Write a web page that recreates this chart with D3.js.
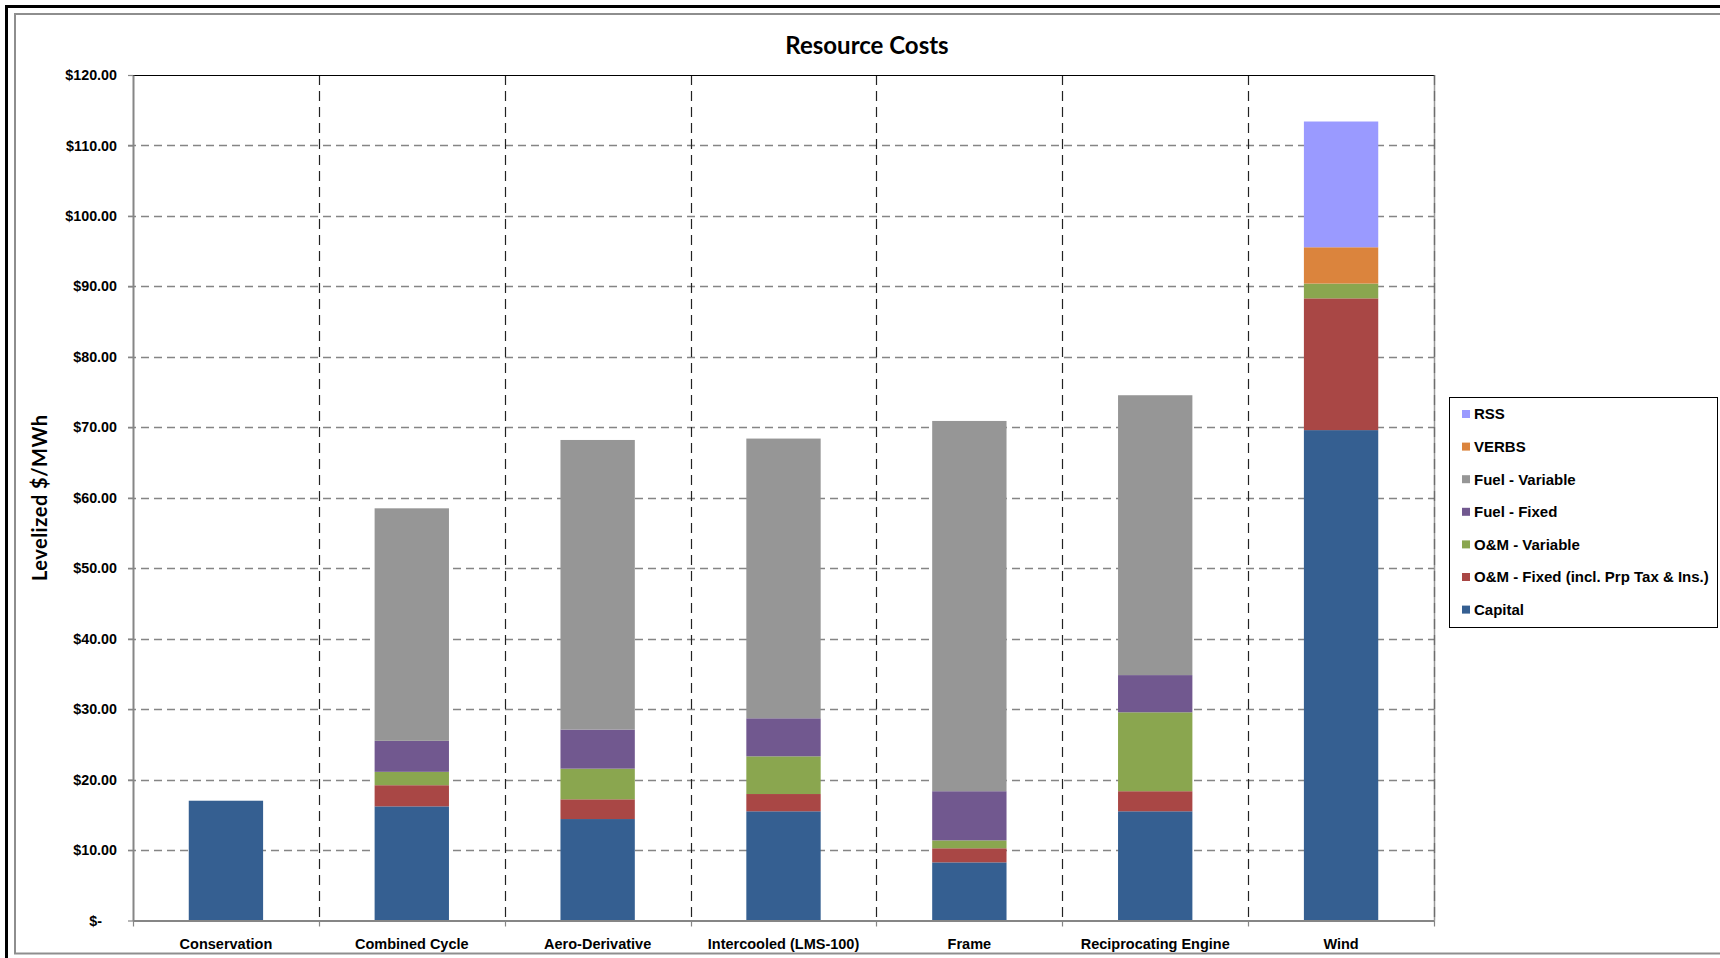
<!DOCTYPE html>
<html><head><meta charset="utf-8">
<script src="https://cdn.jsdelivr.net/npm/d3@7"></script>
<style>body{margin:0;background:#fff;overflow:hidden;} svg{display:block;}</style>
</head><body><svg id="chart" width="1720" height="958"></svg>
<script>
// ---- data ----
const categories = ["Conservation", "Combined Cycle", "Aero-Derivative", "Intercooled (LMS-100)", "Frame", "Reciprocating Engine", "Wind"];
const seriesNames = ["Capital", "O&M - Fixed (incl. Prp Tax & Ins.)", "O&M - Variable", "Fuel - Fixed", "Fuel - Variable", "VERBS", "RSS"];
const capital     = [17.0, 16.2, 14.4, 15.5, 8.25, 15.5, 69.6];
const omFixed     = [0, 3.0, 2.8, 2.45, 2.0, 2.85, 18.7];
const omVariable  = [0, 1.9, 4.35, 5.35, 1.12, 11.2, 2.1];
const fuelFixed   = [0, 4.4, 5.55, 5.4, 6.98, 5.28, 0];
const fuelVariable= [0, 33.0, 41.1, 39.7, 52.55, 39.72, 0];
const verbs       = [0, 0, 0, 0, 0, 0, 5.15];
const rss         = [0, 0, 0, 0, 0, 0, 17.85];
const seriesColors = ["#355F91", "#A94745", "#8AA64F", "#71588F", "#969696", "#DB843D", "#9A9AFF"];
const yTicks = [0, 10, 20, 30, 40, 50, 60, 70, 80, 90, 100, 110, 120];
const chartTitle = "Resource Costs";
const yTitle = "Levelized $/MWh";

const seriesValues = [capital, omFixed, omVariable, fuelFixed, fuelVariable, verbs, rss];
const rows = categories.map((c, i) => {
  const r = { category: c };
  seriesNames.forEach((s, k) => r[s] = seriesValues[k][i]);
  return r;
});

// ---- layout ----
const svg = d3.select("#chart");
const L = 133, R = 1434, T = 75, B = 920.5;
const x = d3.scaleBand().domain(categories).range([L, R]).padding(0);
const y = d3.scaleLinear().domain([0, 120]).range([B, T]);
const sansBold = "'Liberation Sans', Arial, sans-serif";

// frames
svg.append("rect").attr("x", 6.5).attr("y", 6.5).attr("width", 1730).attr("height", 970)
  .attr("fill", "none").attr("stroke", "#000").attr("stroke-width", 3);
svg.append("rect").attr("x", 15).attr("y", 14).attr("width", 1730).attr("height", 939.5)
  .attr("fill", "none").attr("stroke", "#8e8e8e").attr("stroke-width", 2);

// horizontal gridlines
svg.append("g").selectAll("line").data(yTicks.filter(v => v > 0 && v < 120)).join("line")
  .attr("x1", L - 5).attr("x2", R).attr("y1", d => Math.round(y(d)) + 0.5).attr("y2", d => Math.round(y(d)) + 0.5)
  .attr("stroke", "#858585").attr("stroke-width", 1.3).attr("stroke-dasharray", "8,5");

// vertical category dividers
const bounds = categories.slice(1).map(c => x(c)).concat([R]);
svg.append("g").selectAll("line").data(bounds).join("line")
  .attr("x1", d => Math.round(d) + 0.5).attr("x2", d => Math.round(d) + 0.5).attr("y1", T).attr("y2", B)
  .attr("stroke", "#222").attr("stroke-width", 1.2).attr("stroke-dasharray", "10,6");

// bars
const stack = d3.stack().keys(seriesNames);
const stacked = stack(rows);
const bw = x.bandwidth() * 0.4;
svg.append("g").selectAll("g").data(stacked).join("g")
  .attr("fill", (d, i) => seriesColors[i])
  .selectAll("rect").data(d => d.filter(p => p[1] - p[0] > 0)).join("rect")
  .attr("x", d => x(d.data.category) + (x.bandwidth() - bw) / 2)
  .attr("width", bw)
  .attr("y", d => y(d[1]))
  .attr("height", d => y(d[0]) - y(d[1]));

// plot border: top black, right gray
svg.append("line").attr("x1", L).attr("x2", R + 1).attr("y1", T + 0.5).attr("y2", T + 0.5)
  .attr("stroke", "#000").attr("stroke-width", 1.2);
svg.append("line").attr("x1", R + 0.5).attr("x2", R + 0.5).attr("y1", T).attr("y2", B)
  .attr("stroke", "#808080").attr("stroke-width", 1.5).attr("opacity", 0.8);

// y axis
const fmt = v => v === 0 ? "$-" : "$" + d3.format(".2f")(v);
const yAxis = svg.append("g").attr("transform", `translate(${L},0)`)
  .call(d3.axisLeft(y).tickValues(yTicks).tickFormat(fmt).tickSize(5).tickSizeOuter(0).tickPadding(11));
yAxis.select(".domain").attr("stroke", "#868686").attr("stroke-width", 2);
yAxis.selectAll(".tick line").attr("stroke", "#868686").attr("stroke-width", 1.2);
yAxis.selectAll(".tick text").attr("font-family", sansBold).attr("font-weight", "bold")
  .attr("font-size", "14.3px").attr("fill", "#000")
  .attr("dx", d => d === 0 ? -15 : 0);

// x axis
const xAxis = svg.append("g").attr("transform", `translate(0,${B})`)
  .call(d3.axisBottom(x).tickSize(0).tickPadding(18));
xAxis.select(".domain").attr("stroke", "#868686").attr("stroke-width", 2);
xAxis.selectAll(".tick text").attr("font-family", sansBold).attr("font-weight", "bold")
  .attr("font-size", "14.5px").attr("fill", "#000");
svg.append("g").selectAll("line").data([L].concat(bounds)).join("line")
  .attr("x1", d => Math.round(d) + 0.5).attr("x2", d => Math.round(d) + 0.5).attr("y1", B).attr("y2", B + 6)
  .attr("stroke", "#868686").attr("stroke-width", 1.2);

// title
svg.append("text").attr("x", 867).attr("y", 54).attr("text-anchor", "middle")
  .attr("font-family", "Lato, 'Open Sans', sans-serif").attr("font-weight", "bold").attr("font-size", "24px")
  .attr("fill", "#000").text(chartTitle);

// y title
svg.append("text").attr("transform", `translate(47,${(T + B) / 2}) rotate(-90)`).attr("text-anchor", "middle")
  .attr("font-family", "Lato, 'Open Sans', sans-serif").attr("font-weight", "bold").attr("font-size", "20px")
  .attr("fill", "#000").attr("letter-spacing", "0.5px").text(yTitle);

// legend
const lg = svg.append("g");
lg.append("rect").attr("x", 1449.5).attr("y", 397.5).attr("width", 268).attr("height", 230)
  .attr("fill", "#fff").attr("stroke", "#000").attr("stroke-width", 1);
const legendItems = seriesNames.map((s, i) => ({ name: s, color: seriesColors[i] })).reverse();
const li = lg.selectAll("g.item").data(legendItems).join("g").attr("class", "item")
  .attr("transform", (d, i) => `translate(1462,${414 + i * 32.6})`);
li.append("rect").attr("x", 0).attr("y", -4).attr("width", 8).attr("height", 8).attr("fill", d => d.color);
li.append("text").attr("x", 12).attr("y", 0).attr("dy", "0.36em")
  .attr("font-family", sansBold).attr("font-weight", "bold").attr("font-size", "15px").attr("fill", "#000")
  .text(d => d.name);
</script>
</body></html>
